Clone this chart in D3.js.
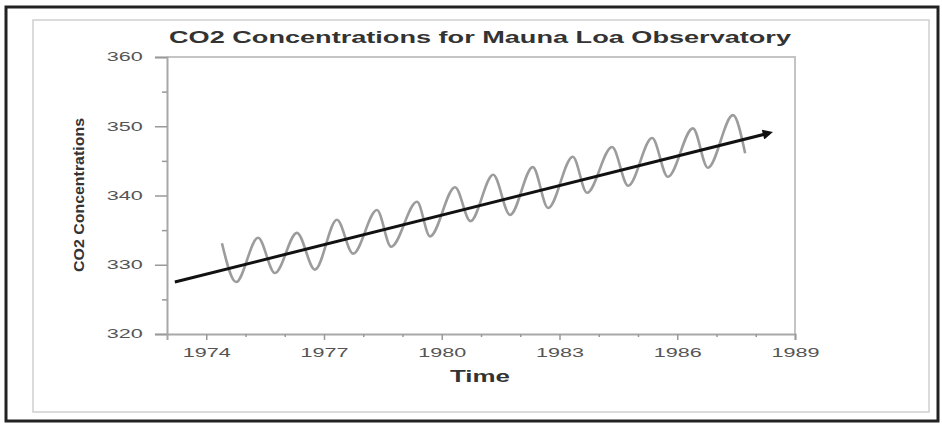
<!DOCTYPE html>
<html>
<head>
<meta charset="utf-8">
<script src="https://cdn.jsdelivr.net/npm/d3@7"></script>
<style>
  body { margin: 0; background: #fff; }
  svg { display: block; font-family: "Liberation Sans", Arial, sans-serif; }
</style>
</head>
<body>
<script>
var w = 942; // Width of the page
var h = 426; // Height of the page

// Seasonal CO2 curve (peaks and troughs)
var seasonYears = [1974.40, 1974.76, 1975.32, 1975.75, 1976.31, 1976.77, 1977.33, 1977.74,
    1978.35, 1978.71, 1979.37, 1979.70, 1980.34, 1980.73, 1981.31, 1981.74, 1982.32, 1982.71,
    1983.34, 1983.70, 1984.34, 1984.75, 1985.36, 1985.76, 1986.40, 1986.78, 1987.42, 1987.73];
var seasonValues = [333.1, 327.5, 333.9, 328.8, 334.6, 329.3, 336.5, 331.6,
    337.9, 332.6, 339.1, 334.1, 341.2, 336.3, 343.0, 337.2, 344.1, 338.2,
    345.6, 340.4, 347.0, 341.4, 348.3, 342.7, 349.7, 344.0, 351.6, 346.1];

// Trend arrow
var trendYears = [1973.2, 1988.44];
var trendValues = [327.5, 349.2];

// Tick labels
var xTicks = [1974, 1977, 1980, 1983, 1986, 1989];
var xMinor = [1975, 1976, 1978, 1979, 1981, 1982, 1984, 1985, 1987, 1988];
var yTicks = [320, 330, 340, 350, 360];
var yMinor = [325, 335, 345, 355];

var title = "CO2 Concentrations for Mauna Loa Observatory";
var xTitle = "Time";
var yTitle = "CO2 Concentrations";

var stretch = 1.8; // the scanned picture is wide, so text is stretched sideways

// Scales
var xScale = d3.scaleLinear().domain([1973, 1989]).range([167, 795]);
var yScale = d3.scaleLinear().domain([320, 360]).range([334, 57]);

var svg = d3.select("body").append("svg")
    .attr("width", w)
    .attr("height", h);

// Frames
svg.append("rect")
    .attr("x", 6).attr("y", 7).attr("width", 932).attr("height", 414)
    .attr("fill", "none").attr("stroke", "#222").attr("stroke-width", 3);
svg.append("rect")
    .attr("x", 33).attr("y", 20).attr("width", 896).attr("height", 392)
    .attr("fill", "none").attr("stroke", "#cfcfcf").attr("stroke-width", 1.5);

// Plot box top and right
svg.append("path")
    .attr("d", "M" + xScale(1973) + "," + yScale(360) + "H" + xScale(1989) + "V" + yScale(320))
    .attr("fill", "none").attr("stroke", "#c4c4c4").attr("stroke-width", 2);

// Axes
var yAxis = d3.axisLeft(yScale).tickValues(yTicks).tickSize(12).tickFormat(d3.format("d"));
var gy = svg.append("g")
    .attr("transform", "translate(" + xScale(1973) + ",0)")
    .call(yAxis);
gy.selectAll("text").attr("x", -13.5).attr("transform", "scale(" + stretch + ",1)");

var gyMinor = svg.append("g")
    .attr("transform", "translate(" + xScale(1973) + ",0)")
    .call(d3.axisLeft(yScale).tickValues(yMinor).tickSize(5).tickFormat(""));
gyMinor.select(".domain").remove();

var xAxis = d3.axisBottom(xScale).tickValues(xTicks).tickSize(6).tickFormat(d3.format("d"));
var gx = svg.append("g")
    .attr("transform", "translate(0," + yScale(320) + ")")
    .call(xAxis);
gx.selectAll("text").attr("y", 14).attr("transform", "scale(" + stretch + ",1)");

var gxMinor = svg.append("g")
    .attr("transform", "translate(0," + yScale(320) + ")")
    .call(d3.axisBottom(xScale).tickValues(xMinor).tickSize(3).tickFormat(""));
gxMinor.select(".domain").remove();

svg.selectAll(".domain").attr("stroke", "#a8a8a8").attr("stroke-width", 2);
svg.selectAll(".tick line").attr("stroke", "#999").attr("stroke-width", 1.5);
svg.selectAll(".tick text").attr("fill", "#555").attr("font-size", 12);

// Seasonal curve
var seasonLine = d3.line()
    .x(function(d, i) { return xScale(seasonYears[i]); })
    .y(function(d) { return yScale(d); })
    .curve(d3.curveMonotoneX);

svg.append("path")
    .datum(seasonValues)
    .attr("d", seasonLine)
    .attr("fill", "none")
    .attr("stroke", "#9c9c9c")
    .attr("stroke-width", 2.6);

// Trend arrow
svg.append("defs").append("marker")
    .attr("id", "arrow")
    .attr("viewBox", "0 0 10 10")
    .attr("refX", 2).attr("refY", 5)
    .attr("markerWidth", 4.4).attr("markerHeight", 3.4)
    .attr("orient", "auto")
    .append("path")
    .attr("d", "M0,0L10,5L0,10Z")
    .attr("fill", "#111");

svg.append("line")
    .attr("x1", xScale(trendYears[0])).attr("y1", yScale(trendValues[0]))
    .attr("x2", xScale(trendYears[1]) - 8).attr("y2", yScale(trendValues[1]) + 2.3)
    .attr("stroke", "#111")
    .attr("stroke-width", 3)
    .attr("marker-end", "url(#arrow)");

// Titles
svg.append("text")
    .attr("x", 480).attr("y", 43)
    .attr("text-anchor", "middle")
    .attr("font-size", 16).attr("font-weight", "bold").attr("fill", "#333")
    .attr("textLength", 622).attr("lengthAdjust", "spacingAndGlyphs")
    .text(title);

svg.append("text")
    .attr("x", 480).attr("y", 382)
    .attr("text-anchor", "middle")
    .attr("font-size", 16).attr("font-weight", "bold").attr("fill", "#333")
    .attr("textLength", 60).attr("lengthAdjust", "spacingAndGlyphs")
    .text(xTitle);

svg.append("text")
    .attr("transform", "translate(84,195) rotate(-90)")
    .attr("text-anchor", "middle")
    .attr("font-size", 15).attr("font-weight", "bold").attr("fill", "#333")
    .attr("textLength", 154).attr("lengthAdjust", "spacingAndGlyphs")
    .text(yTitle);
</script>
</body>
</html>
